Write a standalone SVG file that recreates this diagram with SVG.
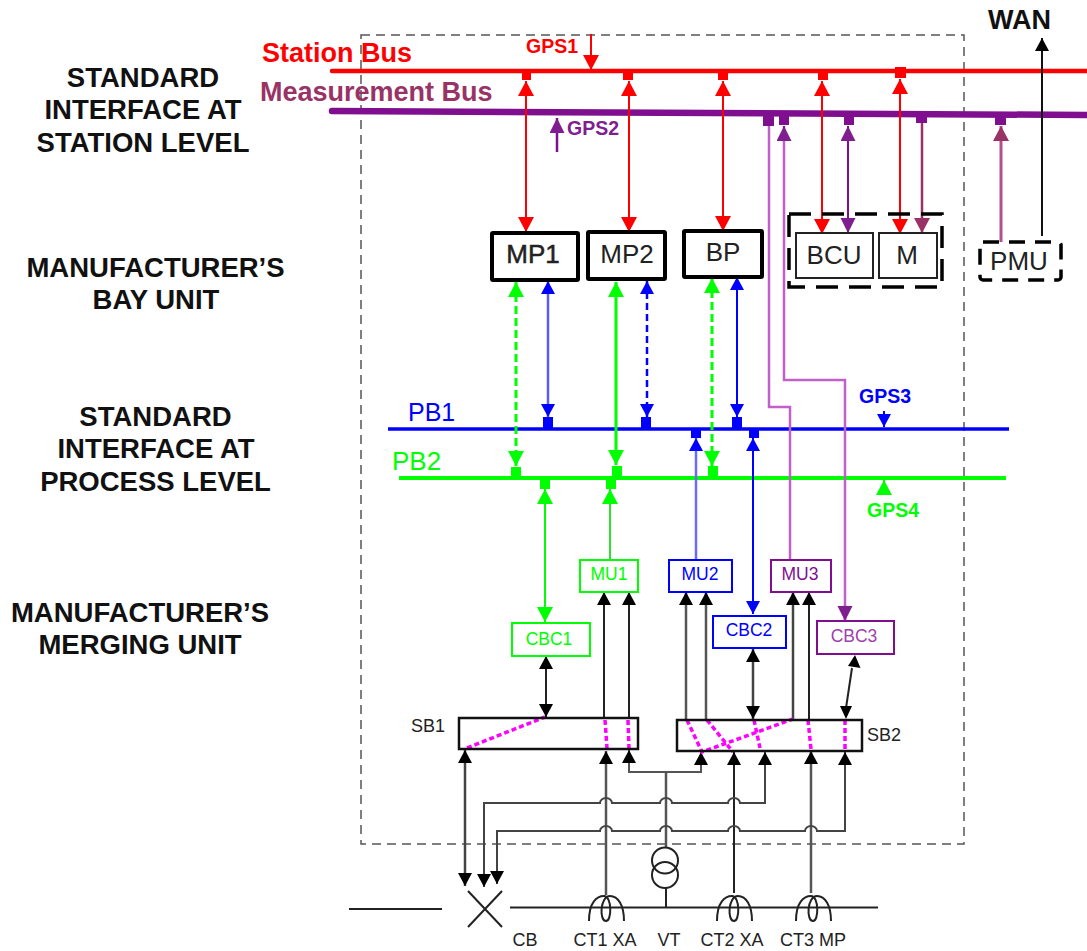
<svg xmlns="http://www.w3.org/2000/svg" width="1087" height="951" viewBox="0 0 1087 951">
<style>
text{font-family:"Liberation Sans",Arial,sans-serif}
.h{font-size:27.5px;font-weight:bold;fill:#111;text-anchor:middle}
.n{font-size:26px;fill:#222;text-anchor:middle}
.s{font-size:17.5px;text-anchor:middle}
.l{font-size:18px;fill:#222;text-anchor:middle}
.g{font-size:19.5px;font-weight:bold}
.c{fill:none}
.bx{fill:#fff}
</style>
<defs>
<marker id="r" markerUnits="userSpaceOnUse" markerWidth="17" markerHeight="17" refX="15" refY="8" orient="auto-start-reverse"><path d="M0 0L15 8L0 16Z" fill="#f00"/></marker>
<marker id="b" markerUnits="userSpaceOnUse" markerWidth="15" markerHeight="15" refX="13" refY="7" orient="auto-start-reverse"><path d="M0 0L13 7L0 14Z" fill="#00f"/></marker>
<marker id="g" markerUnits="userSpaceOnUse" markerWidth="17" markerHeight="17" refX="15" refY="8" orient="auto-start-reverse"><path d="M0 0L15 8L0 16Z" fill="#0f0"/></marker>
<marker id="p" markerUnits="userSpaceOnUse" markerWidth="17" markerHeight="17" refX="15" refY="7.5" orient="auto-start-reverse"><path d="M0 0L15 7.5L0 15Z" fill="#7f1f8f"/></marker>
<marker id="m" markerUnits="userSpaceOnUse" markerWidth="17" markerHeight="17" refX="15" refY="8" orient="auto-start-reverse"><path d="M0 0L15 8L0 16Z" fill="#993366"/></marker>
<marker id="k" markerUnits="userSpaceOnUse" markerWidth="15" markerHeight="15" refX="13" refY="7" orient="auto-start-reverse"><path d="M0 0L13 7L0 14Z" fill="#000"/></marker>
</defs>
<rect x="361" y="35" width="603" height="809" fill="none" stroke="#555" stroke-width="1.5" stroke-dasharray="9 6"/>
<g id="labels">
<text class="h" x="143" y="87">STANDARD</text><text class="h" x="143" y="119">INTERFACE AT</text><text class="h" x="143" y="152">STATION LEVEL</text>
<text class="h" x="155.500" y="277">MANUFACTURER’S</text><text class="h" x="156" y="309">BAY UNIT</text>
<text class="h" x="155.500" y="426">STANDARD</text><text class="h" x="156" y="458">INTERFACE AT</text><text class="h" x="155.500" y="491">PROCESS LEVEL</text>
<text class="h" x="140" y="622">MANUFACTURER’S</text><text class="h" x="140" y="654">MERGING UNIT</text>
<text x="262" y="62" font-size="27" font-weight="bold" fill="#f00">Station Bus</text>
<text x="260" y="101" font-size="27" font-weight="bold" fill="#993366">Measurement Bus</text>
<text x="408" y="421" font-size="25" fill="#00f">PB1</text>
<text x="392" y="470" font-size="26" fill="#0f0">PB2</text>
<text class="g" x="526" y="53" fill="#f00">GPS1</text>
<text class="g" x="567" y="135" fill="#7f1f8f">GPS2</text>
<text class="g" x="859" y="403" fill="#00f">GPS3</text>
<text class="g" x="867" y="517" fill="#0f0">GPS4</text>
<text x="988" y="29" font-size="27" font-weight="bold" fill="#111">WAN</text>
<text class="l" x="428" y="732">SB1</text><text class="l" x="884" y="741">SB2</text>
<text class="l" x="525" y="946">CB</text><text class="l" x="605" y="946">CT1 XA</text><text class="l" x="669" y="946">VT</text><text class="l" x="732" y="946">CT2 XA</text><text class="l" x="813" y="946">CT3 MP</text>
</g>
<g id="connectors" class="c">
<path d="M332 71H1087" stroke="#f00" stroke-width="4.500" stroke-linecap="round"/>
<path d="M332 111L1087 115" stroke="#7f0f8f" stroke-width="6.500" stroke-linecap="round"/>
<path d="M388 429H1009" stroke="#00f" stroke-width="3.500"/>
<path d="M399 478H1006" stroke="#0f0" stroke-width="4"/>
<g fill="#f00"><rect x="522" y="72" width="9" height="8"/><rect x="623" y="72" width="10" height="8"/><rect x="718" y="72" width="10" height="8"/><rect x="818" y="72" width="10" height="8"/><rect x="895" y="67" width="11" height="11"/></g>
<g fill="#7f0f8f"><rect x="763" y="115" width="11" height="11"/><rect x="779" y="115" width="10" height="10"/><rect x="844" y="115" width="10" height="10"/><rect x="916" y="116" width="11" height="7"/><rect x="995" y="116" width="11" height="9"/></g>
<g fill="#00f"><rect x="543" y="417" width="10" height="11"/><rect x="641" y="417" width="10" height="11"/><rect x="732" y="417" width="10" height="11"/><rect x="691" y="430" width="10" height="8"/><rect x="749" y="430" width="10" height="8"/></g>
<g fill="#0f0"><rect x="511" y="467" width="10" height="10"/><rect x="612" y="466" width="10" height="11"/><rect x="708" y="466" width="10" height="11"/><rect x="540" y="480" width="10" height="9"/><rect x="606" y="480" width="10" height="9"/></g>
<g stroke="#f00" stroke-width="2">
<path d="M591 34V70" marker-end="url(#r)"/>
<path d="M526 81V232" marker-start="url(#r)" marker-end="url(#r)"/>
<path d="M629 81V232" marker-start="url(#r)" marker-end="url(#r)"/>
<path d="M723 81V231" marker-start="url(#r)" marker-end="url(#r)"/>
<path d="M822 81V234" marker-start="url(#r)" marker-end="url(#r)"/>
<path d="M900 79V234" marker-start="url(#r)" marker-end="url(#r)"/>
</g>
<path d="M557 152V118" stroke="#7f0f8f" stroke-width="2.500" marker-end="url(#p)"/>
<path d="M848 126V233" stroke="#7f0f8f" stroke-width="2" marker-start="url(#p)" marker-end="url(#p)"/>
<path d="M922 123V233" stroke="#993366" stroke-width="2.500" marker-end="url(#m)"/>
<path d="M1001 126V243" stroke="#b05090" stroke-width="3" marker-start="url(#m)"/>
<path d="M1042 236V38" stroke="#111" stroke-width="2" marker-end="url(#k)"/>
<path d="M769 126V407H790V561" stroke="#c060c8" stroke-width="2.500"/>
<path d="M784 126V380H845V621" stroke="#c060c8" stroke-width="2.500"/>
<path d="M784 140V126" stroke="#7f0f8f" stroke-width="2" marker-end="url(#p)"/>
<path d="M845 605V621" stroke="#c060c8" stroke-width="2.500" marker-end="url(#p)"/>
<g stroke="#00f" stroke-width="2">
<path d="M548 281V417" stroke="#5a5aff" stroke-width="2.500" marker-start="url(#b)" marker-end="url(#b)"/>
<path d="M647 281V417" stroke-width="2.500" stroke-dasharray="7 4" marker-start="url(#b)" marker-end="url(#b)"/>
<path d="M737 277V417" marker-start="url(#b)" marker-end="url(#b)"/>
<path d="M696 561V438" stroke="#6a6aff" stroke-width="2.500" marker-end="url(#b)"/>
<path d="M753 438V614" marker-start="url(#b)" marker-end="url(#b)"/>
<path d="M884 411V427" marker-end="url(#b)"/>
</g>
<g stroke="#0f0" stroke-width="3">
<path d="M516 282V466" stroke-dasharray="8 4" marker-start="url(#g)" marker-end="url(#g)"/>
<path d="M616 282V465" marker-start="url(#g)" marker-end="url(#g)"/>
<path d="M712 278V466" stroke-dasharray="8 4" marker-start="url(#g)" marker-end="url(#g)"/>
<path d="M545 489V622" stroke-width="2" marker-start="url(#g)" marker-end="url(#g)"/>
<path d="M610 489V560" stroke="#30e030" stroke-width="2" marker-start="url(#g)"/>
<path d="M884 495V480" stroke-width="2" marker-end="url(#g)"/>
</g>
<g stroke="#222" stroke-width="2">
<path d="M546 656V717" marker-start="url(#k)" marker-end="url(#k)"/>
<path d="M604 718V592" marker-end="url(#k)"/>
<path d="M629 718V592" marker-end="url(#k)"/>
<path d="M686 720V592" stroke="#555" stroke-width="2.500" marker-end="url(#k)"/>
<path d="M706 720V592" stroke="#555" stroke-width="2.500" marker-end="url(#k)"/>
<path d="M753 649V719" stroke="#444" stroke-width="2.500" marker-start="url(#k)" marker-end="url(#k)"/>
<path d="M793 719V592" stroke="#444" stroke-width="2.500" marker-end="url(#k)"/>
<path d="M809 720V592" marker-end="url(#k)"/>
<path d="M846 708L852 668"/>
<path d="M855 655L860.500 668L848 666Z" fill="#000" stroke="none"/>
<path d="M846 719L840 706H852Z" fill="#000" stroke="none"/>
<path d="M465 750V886" stroke="#444" stroke-width="2.500" marker-start="url(#k)" marker-end="url(#k)"/>
<path d="M606 895V751" stroke="#555" stroke-width="2.500" marker-end="url(#k)"/>
<path d="M734 893V752" marker-end="url(#k)"/>
<path d="M811 893V751" stroke="#555" stroke-width="2.500" marker-end="url(#k)"/>
<path d="M629 750V772H701V752" stroke="#555" marker-start="url(#k)" marker-end="url(#k)"/>
<path d="M666 772V848" stroke="#555" stroke-width="2.500"/>
<path d="M484 887V803H600a6 5 0 0 1 12 0H660a6 5 0 0 1 12 0H728a6 5 0 0 1 12 0H765V752" stroke="#444" marker-start="url(#k)" marker-end="url(#k)"/>
<path d="M497 884V831H600a6 5 0 0 1 12 0H660a6 5 0 0 1 12 0H728a6 5 0 0 1 12 0H805a6 5 0 0 1 12 0H845V752" stroke="#444" marker-start="url(#k)" marker-end="url(#k)"/>
</g>
<g stroke="#f0f" stroke-width="3.500" stroke-dasharray="5 3">
<path d="M467 748L545 717"/><path d="M605 720L607 748"/><path d="M628 720L629 749"/>
<path d="M687 720L702 752L793 719"/><path d="M707 720L733 752"/><path d="M754 720L760 748"/><path d="M808 720L811 749"/><path d="M845 720V749"/>
</g>
</g>
<g id="node-mp1"><rect x="492" y="233" width="86" height="47" rx="1" class="bx" stroke="#000" stroke-width="4"/><text class="n" x="533" y="263" stroke="#222" stroke-width=".5">MP1</text></g>
<g id="node-mp2"><rect x="588" y="232" width="77" height="47" rx="1" class="bx" stroke="#000" stroke-width="4"/><text class="n" x="627" y="263">MP2</text></g>
<g id="node-bp"><rect x="684" y="231" width="78" height="46" rx="1" class="bx" stroke="#000" stroke-width="4"/><text class="n" x="723" y="261">BP</text></g>
<g id="node-group"><rect x="789" y="214" width="153" height="73" fill="none" stroke="#000" stroke-width="3.500" stroke-dasharray="22 11"/></g>
<g id="node-bcu"><rect x="796" y="233" width="77" height="45" class="bx" stroke="#222" stroke-width="2"/><text class="n" x="834" y="264">BCU</text></g>
<g id="node-m"><rect x="879" y="233" width="58" height="45" class="bx" stroke="#222" stroke-width="2"/><text class="n" x="907" y="264">M</text></g>
<g id="node-pmu"><rect x="980" y="242" width="81" height="38" rx="3" class="bx" stroke="#000" stroke-width="3.500" stroke-dasharray="16 10"/><text class="n" x="1019" y="270">PMU</text></g>
<g id="node-mu1"><rect x="580" y="560" width="58" height="32" class="bx" stroke="#0f0" stroke-width="2"/><text class="s" x="609" y="580" fill="#0f0">MU1</text></g>
<g id="node-mu2"><rect x="669" y="560" width="63" height="32" class="bx" stroke="#00f" stroke-width="2"/><text class="s" x="700" y="580" fill="#00f">MU2</text></g>
<g id="node-mu3"><rect x="771" y="560" width="60" height="32" class="bx" stroke="#7f0f8f" stroke-width="2"/><text class="s" x="800" y="580" fill="#7f0f8f">MU3</text></g>
<g id="node-cbc1"><rect x="512" y="623" width="78" height="33" class="bx" stroke="#0f0" stroke-width="2"/><text class="s" x="549" y="645" fill="#0f0">CBC1</text></g>
<g id="node-cbc2"><rect x="713" y="616" width="73" height="32" class="bx" stroke="#00f" stroke-width="2"/><text class="s" x="749" y="636" fill="#00f">CBC2</text></g>
<g id="node-cbc3"><rect x="817" y="621" width="77" height="33" class="bx" stroke="#7f0f8f" stroke-width="2"/><text class="s" x="854" y="642" fill="#a040b0">CBC3</text></g>
<g id="node-sb1"><rect x="459" y="718" width="179" height="31" fill="none" stroke="#111" stroke-width="2.500"/></g>
<g id="node-sb2"><rect x="677" y="720" width="185" height="31" fill="none" stroke="#111" stroke-width="2.500"/></g>
<g id="node-vt" fill="none" stroke="#222" stroke-width="2"><circle cx="665" cy="860.500" r="13"/><circle cx="665" cy="875" r="13"/><path d="M666 888V908"/></g>
<g id="node-line" fill="none" stroke="#222" stroke-width="2">
<path d="M349 909H442M510 907.500H878"/>
<path d="M468 891L502 927M502 891L468 927"/>
<path d="M589 921C589 902 597 896 604 896C612 896 612 921 606 921C599 921 600 896 610 896C618 896 624 905 624 921"/>
<path d="M717 921C717 902 725 896 732 896C740 896 740 921 734 921C727 921 728 896 738 896C746 896 752 905 752 921"/>
<path d="M796 921C796 902 804 896 811 896C819 896 819 921 813 921C806 921 807 896 817 896C825 896 831 905 831 921"/>
</g>
</svg>
